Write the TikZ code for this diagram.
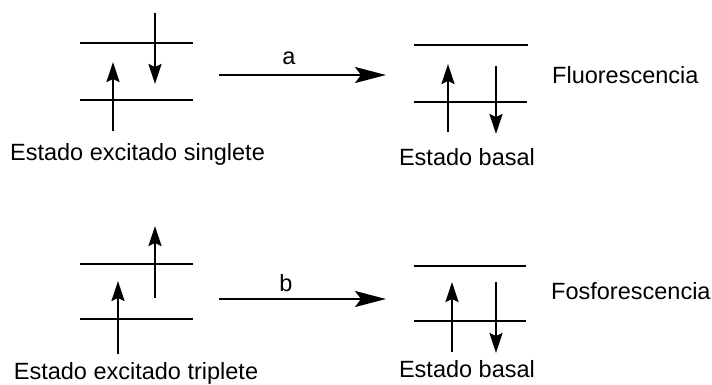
\documentclass[tikz,border=0pt]{standalone}
\usepackage{fontspec}
\setmainfont{Liberation Sans}
\usetikzlibrary{arrows.meta}
\tikzset{
  level/.style={line width=2pt},
  spin/.style={line width=2pt,-{Stealth[length=20pt,width=13pt,inset=3pt]}},
  trans/.style={line width=2pt,-{Stealth[length=31pt,width=16pt,inset=6pt]}},
  lbl/.style={font=\fontsize{23.5}{26}\selectfont,inner sep=0pt},
}
\begin{document}
\begin{tikzpicture}[x=1pt,y=-1pt]
\useasboundingbox (0,0) rectangle (712,384);

% ---- singlet excited state ----
\coordinate (s1a) at (80,43);  \coordinate (s1b) at (193,43);
\coordinate (s0a) at (80,100); \coordinate (s0b) at (193,100);
\draw[level] (s1a) -- (s1b);
\draw[level] (s0a) -- (s0b);
\coordinate (su0) at (113,131); \coordinate (su1) at (113,62);
\coordinate (sd0) at (155,13);  \coordinate (sd1) at (155,84);
\draw[spin] (su0) -- (su1);
\draw[spin] (sd0) -- (sd1);
\node[lbl] (singlete) at (137.5,154) {Estado excitado singlete};

% transition a
\coordinate (a0) at (219,75); \coordinate (a1) at (386,75);
\draw[trans] (a0) -- (a1);
\node[lbl] (la) at (289,58) {a};

% ---- ground state (upper row) ----
\coordinate (g1a) at (414,45);  \coordinate (g1b) at (528,45);
\coordinate (g0a) at (414,102); \coordinate (g0b) at (527,102);
\draw[level] (g1a) -- (g1b);
\draw[level] (g0a) -- (g0b);
\coordinate (gu0) at (448,132); \coordinate (gu1) at (448,64);
\coordinate (gd0) at (496,66);  \coordinate (gd1) at (496,134);
\draw[spin] (gu0) -- (gu1);
\draw[spin] (gd0) -- (gd1);
\node[lbl] (basal1) at (467,157) {Estado basal};
\node[lbl,anchor=west] (fluo) at (552,75) {Fluorescencia};

% ---- triplet excited state ----
\coordinate (t1a) at (80,264);  \coordinate (t1b) at (193,264);
\coordinate (t0a) at (80,319);  \coordinate (t0b) at (193,319);
\draw[level] (t1a) -- (t1b);
\draw[level] (t0a) -- (t0b);
\coordinate (tu0) at (118,354); \coordinate (tu1) at (118,281);
\coordinate (tv0) at (155,298); \coordinate (tv1) at (155,226);
\draw[spin] (tu0) -- (tu1);
\draw[spin] (tv0) -- (tv1);
\node[lbl] (triplete) at (136,373) {Estado excitado triplete};

% transition b
\coordinate (b0) at (219,299); \coordinate (b1) at (386,299);
\draw[trans] (b0) -- (b1);
\node[lbl] (lb) at (286,283) {b};

% ---- ground state (lower row) ----
\coordinate (h1a) at (414,266); \coordinate (h1b) at (526,266);
\coordinate (h0a) at (414,321); \coordinate (h0b) at (526,321);
\draw[level] (h1a) -- (h1b);
\draw[level] (h0a) -- (h0b);
\coordinate (hu0) at (452,352); \coordinate (hu1) at (452,282);
\coordinate (hd0) at (496,282); \coordinate (hd1) at (496,353);
\draw[spin] (hu0) -- (hu1);
\draw[spin] (hd0) -- (hd1);
\node[lbl] (basal2) at (467,369) {Estado basal};
\node[lbl,anchor=west] (fosfo) at (551,291) {Fosforescencia};
\end{tikzpicture}
\end{document}
